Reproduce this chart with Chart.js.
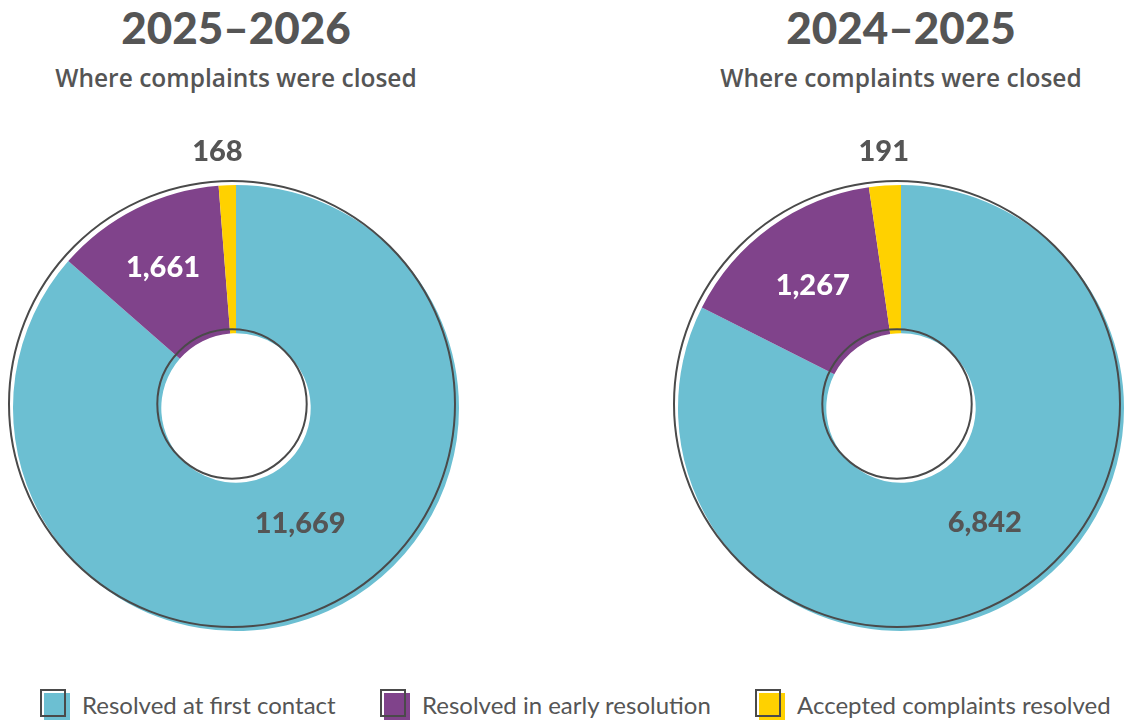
<!DOCTYPE html>
<html lang="en">
<head>
    <meta charset="UTF-8">
    <title>Where complaints were closed</title>
    <script src="https://cdn.jsdelivr.net/npm/chart.js"></script>
    <style>
        body {
            margin: 0;
            width: 1124px;
            height: 720px;
            overflow: hidden;
            background: #fff;
            font-family: Lato, "Open Sans", sans-serif;
            color: #555;
            position: relative;
        }
        .title {
            position: absolute;
            width: 470px;
            text-align: center;
            font-size: 44px;
            font-weight: 900;
            top: 2px;
            line-height: 50px;
        }
        .subtitle {
            position: absolute;
            width: 470px;
            text-align: center;
            font-family: "Open Sans", sans-serif;
            font-size: 24.5px;
            font-weight: 600;
            top: 63px;
            line-height: 30px;
        }
        .chart-box {
            position: absolute;
            top: 130px;
            width: 470px;
            height: 512px;
        }
        .legend {
            position: absolute;
            top: 689px;
            height: 30px;
            font-size: 24px;
            line-height: 30px;
            white-space: nowrap;
        }
        .legend .sw {
            position: absolute;
            left: 0;
            top: 0;
            width: 26px;
            height: 28px;
        }
        .legend .sw .fill {
            position: absolute;
            left: 4px;
            top: 4px;
            width: 26px;
            height: 28px;
        }
        .legend .sw .edge {
            position: absolute;
            left: 0;
            top: 0;
            width: 22px;
            height: 24px;
            border: 2px solid #4a4a4a;
        }
        .legend .txt {
            position: absolute;
            left: 42px;
            top: 1px;
        }
    </style>
</head>
<body>

    <div class="title" style="left:1px">2025–2026</div>
    <div class="subtitle" style="left:1px">Where complaints were closed</div>
    <div class="title" style="left:666px">2024–2025</div>
    <div class="subtitle" style="left:666px">Where complaints were closed</div>

    <div class="chart-box" style="left:1px"><canvas id="chartA"></canvas></div>
    <div class="chart-box" style="left:666px"><canvas id="chartB"></canvas></div>

    <div id="legend"></div>

    <script>
        const categories = ['Resolved at first contact', 'Resolved in early resolution', 'Accepted complaints resolved'];
        const values2025 = [11669, 1661, 168];
        const values2024 = [6842, 1267, 191];
        const colors = ['#6cbfd2', '#80438b', '#ffd100'];
        const labelColors = ['#555555', '#ffffff', '#555555'];

        // label placement per slice: distance from centre and angle nudge (degrees)
        const labelPosA = [{ r: 132, shift: -4.7 }, { r: 158, shift: -0.9 }, { r: 257, shift: -1.9 }];
        const labelPosB = [{ r: 142, shift: -4.5 }, { r: 151, shift: 0 }, { r: 257, shift: 0.3 }];

        const ringPlugin = {
            id: 'ring',
            afterDatasetsDraw(chart, args, opts) {
                const ctx = chart.ctx;
                const meta = chart.getDatasetMeta(0);
                const arc0 = meta.data[0];
                const cx = arc0.x, cy = arc0.y;
                const outer = arc0.outerRadius, inner = arc0.innerRadius;

                // offset outline rings
                ctx.save();
                ctx.strokeStyle = '#4a4a4a';
                ctx.lineWidth = 2;
                ctx.beginPath();
                ctx.arc(cx - 4, cy - 4, outer, 0, Math.PI * 2);
                ctx.stroke();
                ctx.beginPath();
                ctx.arc(cx - 4, cy - 4, inner, 0, Math.PI * 2);
                ctx.stroke();

                // value labels
                ctx.font = '900 29px Lato, sans-serif';
                ctx.textAlign = 'center';
                ctx.textBaseline = 'middle';
                meta.data.forEach((arc, i) => {
                    const p = opts.pos[i];
                    const mid = (arc.startAngle + arc.endAngle) / 2 + p.shift * Math.PI / 180;
                    const x = cx + Math.cos(mid) * p.r;
                    const y = cy + Math.sin(mid) * p.r;
                    ctx.fillStyle = labelColors[i];
                    ctx.fillText(chart.data.datasets[0].data[i].toLocaleString('en-US'), x, y);
                });
                ctx.restore();
            }
        };

        function createChart(id, values, pos) {
            new Chart(document.getElementById(id), {
                type: 'doughnut',
                data: {
                    labels: categories,
                    datasets: [{
                        data: values,
                        backgroundColor: colors,
                        borderWidth: 0
                    }]
                },
                options: {
                    responsive: true,
                    maintainAspectRatio: false,
                    animation: false,
                    cutout: '33.5%',
                    layout: { padding: { top: 54, left: 12, right: 12, bottom: 10 } },
                    plugins: {
                        legend: { display: false },
                        tooltip: { enabled: false },
                        ring: { pos: pos }
                    }
                },
                plugins: [ringPlugin]
            });
        }

        createChart('chartA', values2025, labelPosA);
        createChart('chartB', values2024, labelPosB);

        // legend
        const legendX = [40, 380, 755];
        const legend = document.getElementById('legend');
        categories.forEach((name, i) => {
            const item = document.createElement('div');
            item.className = 'legend';
            item.style.left = legendX[i] + 'px';
            item.innerHTML = '<div class="sw"><div class="fill" style="background:' + colors[i] + '"></div><div class="edge"></div></div>' +
                '<span class="txt">' + name + '</span>';
            legend.appendChild(item);
        });
    </script>

</body>
</html>
